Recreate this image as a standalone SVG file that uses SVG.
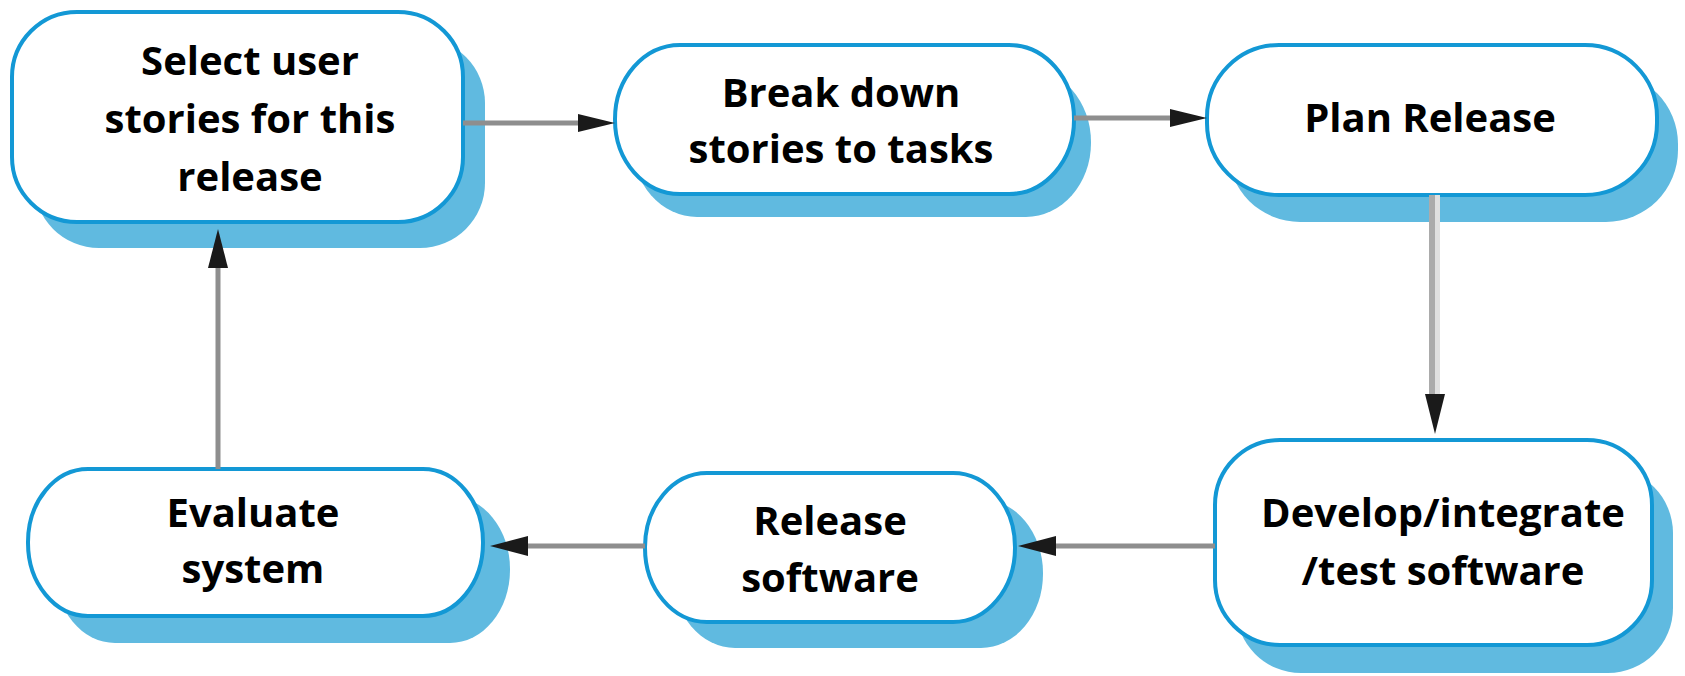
<svg xmlns="http://www.w3.org/2000/svg" width="1685" height="676" viewBox="0 0 1685 676">
  <defs>
    <style>
      .shadow { fill: #60bae0; stroke: none; }
      .box { fill: #ffffff; stroke: #1398d5; stroke-width: 4; }
      .lbl { font-family: "Open Sans", "Liberation Sans", sans-serif; font-weight: bold; font-size: 40px; fill: #000000; text-anchor: middle; }
      .conn { stroke: #8e8e8e; stroke-width: 5; fill: none; }
      .head { fill: #1a1a1a; }
    </style>
  </defs>
  <rect width="1685" height="676" fill="#ffffff"/>

  <g id="node-select">
    <rect class="shadow" x="34" y="38" width="451" height="210" rx="65" ry="65"/>
    <rect class="box" x="12" y="12" width="451" height="210" rx="65" ry="65"/>
    <text class="lbl" x="250" y="75">Select user</text>
    <text class="lbl" x="250" y="133">stories for this</text>
    <text class="lbl" x="250" y="191">release</text>
  </g>

  <g id="node-breakdown">
    <rect class="shadow" x="632" y="68" width="459" height="149" rx="65" ry="74"/>
    <rect class="box" x="615" y="45" width="459" height="149" rx="65" ry="74"/>
    <text class="lbl" x="841" y="107">Break down</text>
    <text class="lbl" x="841" y="163">stories to tasks</text>
  </g>

  <g id="node-plan">
    <rect class="shadow" x="1228" y="72" width="450" height="150" rx="72" ry="72"/>
    <rect class="box" x="1207" y="45" width="450" height="150" rx="72" ry="72"/>
    <text class="lbl" x="1430" y="132">Plan Release</text>
  </g>

  <g id="node-develop">
    <rect class="shadow" x="1236" y="468" width="437" height="205" rx="65" ry="65"/>
    <rect class="box" x="1215" y="440" width="437" height="205" rx="65" ry="65"/>
    <text class="lbl" x="1443" y="527">Develop/integrate</text>
    <text class="lbl" x="1443" y="585">/test software</text>
  </g>

  <g id="node-release">
    <rect class="shadow" x="673" y="499" width="370" height="149" rx="62" ry="74"/>
    <rect class="box" x="645" y="473" width="370" height="149" rx="62" ry="74"/>
    <text class="lbl" x="830" y="535">Release</text>
    <text class="lbl" x="830" y="592">software</text>
  </g>

  <g id="node-evaluate">
    <rect class="shadow" x="55" y="496" width="455" height="147" rx="60" ry="73"/>
    <rect class="box" x="28" y="469" width="455" height="147" rx="60" ry="73"/>
    <text class="lbl" x="253" y="527">Evaluate</text>
    <text class="lbl" x="253" y="583">system</text>
  </g>

  <g id="connectors">
    <line class="conn" x1="463" y1="123" x2="585" y2="123"/>
    <polygon class="head" points="615,123 578,114 578,132"/>

    <line class="conn" x1="1074" y1="118" x2="1177" y2="118"/>
    <polygon class="head" points="1207,118 1170,109 1170,127"/>

    <line x1="1432" y1="195" x2="1432" y2="400" stroke="#ababab" stroke-width="6"/>
    <line x1="1437.5" y1="195" x2="1437.5" y2="400" stroke="#e0e0e0" stroke-width="5"/>
    <polygon class="head" points="1435,434 1425,394 1445,394"/>

    <line class="conn" x1="1215" y1="546" x2="1050" y2="546"/>
    <polygon class="head" points="1018,546 1056,536 1056,556"/>

    <line class="conn" x1="645" y1="546" x2="522" y2="546"/>
    <polygon class="head" points="490,546 528,536 528,556"/>

    <line class="conn" x1="218" y1="469" x2="218" y2="262"/>
    <polygon class="head" points="218,229 208,268 228,268"/>
  </g>
</svg>
